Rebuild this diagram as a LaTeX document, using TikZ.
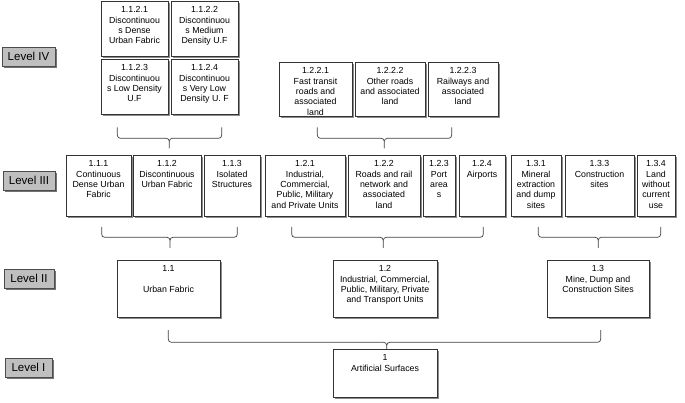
\documentclass[tikz,border=0pt]{standalone}
\usepackage{fontspec}
\setmainfont{Liberation Sans}
\usetikzlibrary{shadows}
\tikzset{
  box/.style={draw=black!80, line width=0.7pt, fill=white, inner sep=0pt, outer sep=0pt,
    drop shadow={shadow xshift=1.6pt, shadow yshift=-1.6pt, fill=black!45, opacity=1}},
  txt/.style={anchor=north, inner sep=0pt, align=center, font=\fontsize{8.8}{10.3}\selectfont},
  lvl/.style={draw=black!70, line width=0.6pt, fill=black!25, inner sep=0pt, outer sep=0pt,
    font=\fontsize{11.5}{13}\selectfont,
    drop shadow={shadow xshift=1.6pt, shadow yshift=-1.6pt, fill=black!55, opacity=1}},
  br/.style={draw=black!75, line width=0.7pt}
}
% name, x1, y1, x2, y2, text
\newcommand\bx[6]{%
  \node[box, minimum width={(#4-#2)*1pt}, minimum height={(#5-#3)*1pt}] (#1) at ({(#2+#4)/2},{(#3+#5)/2}) {};
  \node[txt] (#1t) at ([yshift=-5.6pt]#1.north) {#6};}
\newcommand\lv[6]{%
  \node[lvl, minimum width={(#4-#2)*1pt}, minimum height={(#5-#3)*1pt}] (#1) at ({(#2+#4)/2},{(#3+#5)/2}) {#6};}
% name, x1, x2, xc, ytop, yh, ybot
\newcommand\brc[7]{%
  \coordinate (#1l) at (#2,#5); \coordinate (#1r) at (#3,#5);
  \coordinate (#1c) at (#4,#7);
  \draw[br] (#1l) -- (#2,#6-3) to[out=-90,in=180] (#2+3,#6) -- (#4-3,#6) to[out=0,in=90] (#4,#6+3) -- (#1c);
  \draw[br] (#1r) -- (#3,#6-3) to[out=-90,in=0] (#3-3,#6) -- (#4+3,#6) to[out=180,in=90] (#4,#6+3);}
\begin{document}
\begin{tikzpicture}[x=1pt,y=-1pt]
\useasboundingbox (0,0) rectangle (685,403);
% level labels
\lv{L4}{2}{47}{55}{66}{Level IV}
\lv{L3}{3}{171}{55}{190}{Level III}
\lv{L2}{4}{269}{54}{288}{Level II}
\lv{L1}{5}{358}{52}{377}{Level I}
% level IV
\bx{a1121}{101}{1}{168}{56}{1.1.2.1\\Discontinuou\\s Dense\\Urban Fabric}
\bx{a1122}{171}{1}{238}{56}{1.1.2.2\\Discontinuou\\s Medium\\Density U.F}
\bx{a1123}{101}{59}{168}{114}{1.1.2.3\\Discontinuou\\s Low Density\\U.F}
\bx{a1124}{171}{59}{238}{114}{1.1.2.4\\Discontinuou\\s Very Low\\Density U. F}
\bx{a1221}{279}{62}{352}{116}{1.2.2.1\\Fast transit\\roads and\\associated\\land}
\bx{a1222}{355}{62}{425}{116}{1.2.2.2\\Other roads\\and associated\\land}
\bx{a1223}{428}{62}{498}{116}{1.2.2.3\\Railways and\\associated\\land}
% level III
\bx{b111}{66}{155}{131}{216}{1.1.1\\Continuous\\Dense Urban\\Fabric}
\bx{b112}{133}{155}{201}{216}{1.1.2\\Discontinuous\\Urban Fabric}
\bx{b113}{204}{155}{260}{216}{1.1.3\\Isolated\\Structures}
\bx{b121}{265}{155}{345}{216}{1.2.1\\Industrial,\\Commercial,\\Public, Military\\and Private Units}
\bx{b122}{348}{155}{420}{216}{1.2.2\\Roads and rail\\network and\\associated\\land}
\bx{b123}{423}{155}{455}{216}{1.2.3\\Port\\area\\s}
\bx{b124}{459}{155}{505}{216}{1.2.4\\Airports}
\bx{b131}{511}{155}{561}{216}{1.3.1\\Mineral\\extraction\\and dump\\sites}
\bx{b133}{565}{155}{634}{216}{1.3.3\\Construction\\sites}
\bx{b134}{637}{155}{675}{216}{1.3.4\\Land\\without\\current\\use}
% level II
\bx{c11}{117}{260}{220}{317}{1.1\\[10.3pt]Urban Fabric}
\bx{c12}{333}{260}{437}{317}{1.2\\Industrial, Commercial,\\Public, Military, Private\\and Transport Units}
\bx{c13}{547}{260}{649}{317}{1.3\\Mine, Dump and\\Construction Sites}
% level I
\bx{d1}{333}{349}{437}{397}{1\\Artificial Surfaces}
% braces
\brc{k1}{117.3}{221.7}{169.3}{127.3}{138.3}{148.3}
\brc{k2}{317.3}{451.7}{384.3}{127.3}{138.3}{148.3}
\brc{k3}{101.7}{237.3}{170}{227}{237.3}{248}
\brc{k4}{291.7}{483.3}{383.3}{227}{237.3}{248}
\brc{k5}{538.3}{660.7}{598.3}{227}{237.3}{248}
\brc{k6}{168.3}{600.7}{386.7}{330}{342.3}{349}
\end{tikzpicture}
\end{document}
